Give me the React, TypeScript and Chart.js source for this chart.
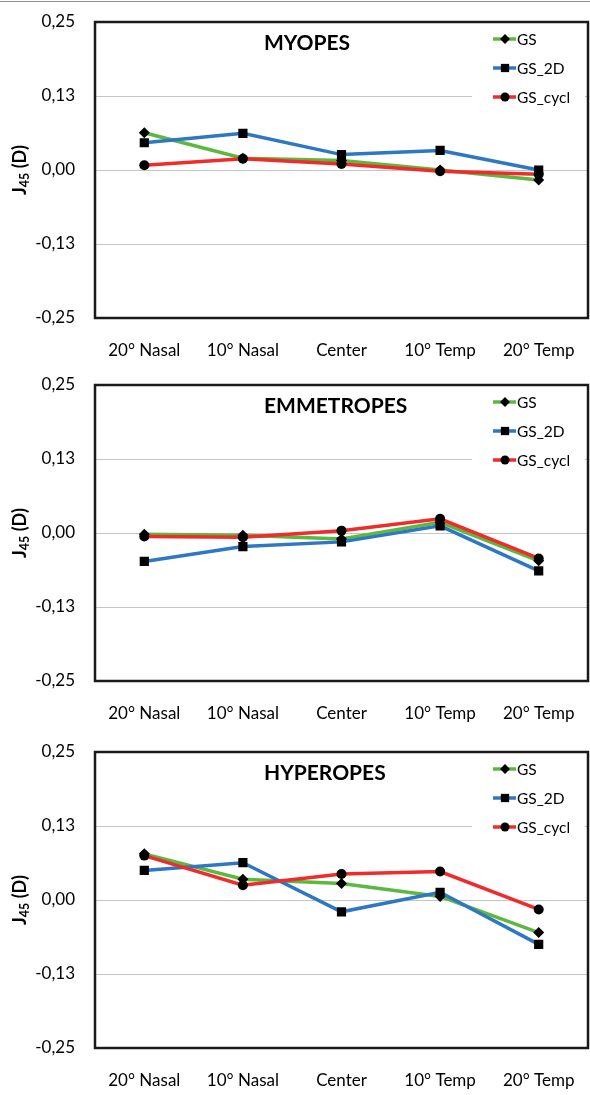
import React, { useEffect, useRef } from 'react';
import { Chart, registerables } from 'chart.js';

Chart.register(...registerables);

// ---------- data ----------
const categories = ['20° Nasal', '10° Nasal', 'Center', '10° Temp', '20° Temp'];
const seriesNames = ['GS', 'GS_2D', 'GS_cycl'];
const yTickValues = [-0.25, -0.125, 0, 0.125, 0.25];
const panelTitles = ['MYOPES', 'EMMETROPES', 'HYPEROPES'];

const myopesGS = [0.063, 0.020, 0.016, 0.000, -0.017];
const myopesGS2D = [0.046, 0.062, 0.026, 0.033, 0.000];
const myopesCycl = [0.008, 0.019, 0.010, -0.002, -0.007];

const emmetropesGS = [-0.002, -0.004, -0.010, 0.018, -0.047];
const emmetropesGS2D = [-0.048, -0.023, -0.015, 0.012, -0.064];
const emmetropesCycl = [-0.006, -0.007, 0.004, 0.024, -0.043];

const hyperopesGS = [0.078, 0.035, 0.028, 0.006, -0.055];
const hyperopesGS2D = [0.050, 0.063, -0.020, 0.013, -0.075];
const hyperopesCycl = [0.075, 0.025, 0.044, 0.048, -0.016];

// ---------- styles ----------
const seriesColors = ['#5cb83e', '#2e77c2', '#ef2b2b'];
const seriesMarkers = ['rectRot', 'rect', 'circle'];
const markerRadius = [5.5, 6.5, 5];
const FONT = 'Lato, "Open Sans", sans-serif';
const CANVAS_W = 590;
const CANVAS_H = 365;
const PLOT_RIGHT = 588;

function drawMarker(ctx: CanvasRenderingContext2D, style: string, r: number, x: number, y: number) {
  ctx.beginPath();
  if (style === 'circle') {
    ctx.arc(x, y, r, 0, Math.PI * 2);
  } else if (style === 'rect') {
    const s = Math.SQRT1_2 * r;
    ctx.rect(x - s, y - s, 2 * s, 2 * s);
  } else {
    ctx.moveTo(x, y - r);
    ctx.lineTo(x + r, y);
    ctx.lineTo(x, y + r);
    ctx.lineTo(x - r, y);
    ctx.closePath();
  }
  ctx.fill();
}

function panelPlugin(title: string) {
  return {
    id: 'panelDecor',
    afterDraw(chart: any) {
      const ctx = chart.ctx as CanvasRenderingContext2D;
      const { left, right, top, bottom } = chart.chartArea;
      ctx.save();

      // legend box (covers gridline)
      ctx.fillStyle = '#ffffff';
      ctx.fillRect(472, top + 4, right - 472 - 3, 88);
      const rowYs = [top + 17, top + 46, top + 75];
      seriesNames.forEach((name, i) => {
        const y = rowYs[i];
        ctx.strokeStyle = seriesColors[i];
        ctx.lineWidth = 3.5;
        ctx.beginPath();
        ctx.moveTo(493, y);
        ctx.lineTo(516, y);
        ctx.stroke();
        ctx.fillStyle = '#000';
        drawMarker(ctx, seriesMarkers[i], markerRadius[i] * 0.9, 505, y);
        ctx.font = `15.5px ${FONT}`;
        ctx.textAlign = 'left';
        ctx.textBaseline = 'middle';
        ctx.fillText(name, 517, y + 1);
      });

      // frame
      ctx.strokeStyle = '#1a1a1a';
      ctx.lineWidth = 2.5;
      ctx.strokeRect(left, top, right - left, bottom - top);

      // title
      ctx.fillStyle = '#000';
      ctx.font = `bold 21px ${FONT}`;
      ctx.textAlign = 'left';
      ctx.textBaseline = 'middle';
      ctx.fillText(title, 264, top + 21);

      // y axis title J45 (D)
      const cy = (top + bottom) / 2;
      ctx.translate(20, cy);
      ctx.rotate(-Math.PI / 2);
      const bigFont = `bold 18px ${FONT}`;
      const subFont = `bold 12.5px ${FONT}`;
      ctx.font = bigFont;
      const wJ = ctx.measureText('J').width;
      const wRest = ctx.measureText(' (D)').width;
      ctx.font = subFont;
      const wSub = ctx.measureText('45').width;
      const total = wJ + wSub + wRest;
      let x = -total / 2;
      ctx.textAlign = 'left';
      ctx.textBaseline = 'middle';
      ctx.font = bigFont;
      ctx.fillText('J', x, 0);
      x += wJ;
      ctx.font = subFont;
      ctx.fillText('45', x, 5);
      x += wSub;
      ctx.font = bigFont;
      ctx.fillText(' (D)', x, 0);
      ctx.restore();
    },
  };
}

function Panel({ title, series }: { title: string; series: number[][] }) {
  const ref = useRef<HTMLCanvasElement>(null);
  useEffect(() => {
    if (!ref.current) return;
    const chart = new Chart(ref.current, {
      type: 'line',
      data: {
        labels: categories,
        datasets: series.map((vals, i) => ({
          label: seriesNames[i],
          data: vals,
          borderColor: seriesColors[i],
          backgroundColor: seriesColors[i],
          borderWidth: 3.5,
          pointStyle: seriesMarkers[i] as any,
          pointRadius: markerRadius[i],
          pointBackgroundColor: '#000',
          pointBorderColor: '#000',
          pointBorderWidth: 0,
          tension: 0,
          fill: false,
          order: 2 - i,
        })),
      },
      options: {
        animation: false,
        responsive: false,
        events: [],
        layout: { padding: { top: 22, right: 2, left: 0, bottom: 0 } },
        plugins: {
          legend: { display: false },
          tooltip: { enabled: false },
          title: { display: false },
        },
        scales: {
          x: {
            type: 'category',
            offset: true,
            grid: { display: false, drawTicks: false },
            border: { display: false },
            ticks: {
              font: { family: FONT, size: 17 },
              color: '#000',
              padding: 22,
              maxRotation: 0,
              autoSkip: false,
            },
            afterFit: (s: any) => {
              s.height = 47;
              s.paddingLeft = 0;
              s.paddingRight = 0;
              if (s._margins) {
                s._margins.left = 0;
                s._margins.right = 0;
              }
            },
          },
          y: {
            min: -0.25,
            max: 0.25,
            afterBuildTicks: (s: any) => {
              s.ticks = yTickValues.map((v) => ({ value: v }));
            },
            grid: { color: '#c4c4c4', lineWidth: 1, drawTicks: false },
            border: { display: false },
            ticks: {
              font: { family: FONT, size: 17 },
              color: '#000',
              padding: 20,
              callback: (v: any) => Number(v).toFixed(2).replace('.', ','),
            },
            afterFit: (s: any) => {
              s.width = 95;
              s.paddingTop = 0;
              s.paddingBottom = 0;
            },
          },
        },
      },
      plugins: [
        {
          id: 'fixArea',
          afterLayout(chart: any) {
            // keep the plot frame flush with the reference's right edge
            const x = chart.scales.x;
            if (chart.chartArea.right !== PLOT_RIGHT) {
              chart.chartArea.right = PLOT_RIGHT;
              chart.chartArea.width = PLOT_RIGHT - chart.chartArea.left;
              x.right = PLOT_RIGHT;
              x.width = PLOT_RIGHT - x.left;
              x.configure();
              const y = chart.scales.y;
              y.configure();
            }
          },
        },
        panelPlugin(title),
      ],
    } as any);
    return () => chart.destroy();
  }, [title, series]);
  return (
    <canvas
      ref={ref}
      width={CANVAS_W}
      height={CANVAS_H}
      style={{ display: 'block', width: CANVAS_W, height: CANVAS_H }}
    />
  );
}

const panelSeries = [
  [myopesGS, myopesGS2D, myopesCycl],
  [emmetropesGS, emmetropesGS2D, emmetropesCycl],
  [hyperopesGS, hyperopesGS2D, hyperopesCycl],
];
const panelTops = [0, 363, 730];

export default function App() {
  return (
    <div
      style={{
        position: 'absolute',
        left: 0,
        top: 0,
        width: 590,
        height: 1095,
        background: '#fff',
        overflow: 'hidden',
      }}
    >
      <div style={{ position: 'absolute', left: 0, top: 1, width: 590, height: 0, borderTop: '1px solid #8e8e8e' }} />
      {panelTitles.map((t, i) => (
        <div key={t} style={{ position: 'absolute', left: 0, top: panelTops[i] }}>
          <Panel title={t} series={panelSeries[i]} />
        </div>
      ))}
    </div>
  );
}
